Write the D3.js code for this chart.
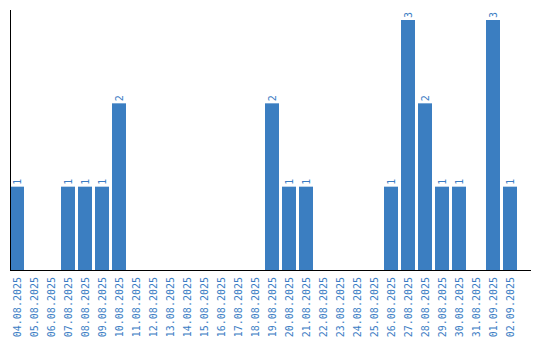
<!DOCTYPE html>
<html lang="en">
<head>
	<meta charset="UTF-8">
	<title>daily counts</title>
	<style>
		* { margin: 0; padding: 0; }
		body { background: #fff; }
		svg { display: block; }
		text { font-family: "DejaVu Sans Mono", monospace; font-size: 10px; fill: #3b7dc4; }
	</style>
</head>
<body>
	<script src="https://cdn.jsdelivr.net/npm/d3@7"></script>
	<script>
		var dates = ['04.08.2025', '05.08.2025', '06.08.2025', '07.08.2025', '08.08.2025', '09.08.2025',
			'10.08.2025', '11.08.2025', '12.08.2025', '13.08.2025', '14.08.2025', '15.08.2025',
			'16.08.2025', '17.08.2025', '18.08.2025', '19.08.2025', '20.08.2025', '21.08.2025',
			'22.08.2025', '23.08.2025', '24.08.2025', '25.08.2025', '26.08.2025', '27.08.2025',
			'28.08.2025', '29.08.2025', '30.08.2025', '31.08.2025', '01.09.2025', '02.09.2025'];
		var counts = [1, 0, 0, 1, 1, 1, 2, 0, 0, 0, 0, 0, 0, 0, 0, 2, 1, 1, 0, 0, 0, 0, 1, 3, 2, 1, 1, 0, 3, 1];

		var W = 540, H = 340;
		var padLeft = 10, padTop = 20, base = 270;

		var svg = d3.select('body').append('svg').attr('width', W).attr('height', H);

		// step 17px, bar 14px
		var x = d3.scaleBand().domain(dates).range([padLeft, padLeft + 17 * dates.length - 3]).paddingInner(3 / 17).paddingOuter(0);
		var y = d3.scaleLinear().domain([0, d3.max(counts)]).range([base, padTop]);

		var data = dates.map(function (d, i) { return { date: d, v: counts[i] }; });
		var nonZero = data.filter(function (d) { return d.v > 0; });

		svg.selectAll('rect.bar')
			.data(nonZero)
			.enter()
			.append('rect')
			.attr('class', 'bar')
			.attr('x', function (d) { return x(d.date); })
			.attr('y', function (d) { return y(d.v); })
			.attr('width', x.bandwidth())
			.attr('height', function (d) { return base - y(d.v); })
			.style('fill', '#3b7ec1');

		// value labels, rotated
		svg.selectAll('text.val')
			.data(nonZero)
			.enter()
			.append('text')
			.attr('class', 'val')
			.attr('transform', function (d) {
				return 'translate(' + (x(d.date) + x.bandwidth() / 2) + ',' + (y(d.v) - 2) + ') rotate(-90)';
			})
			.attr('dy', '0.35em')
			.text(function (d) { return d.v; });

		// x axis
		var xAxis = svg.append('g')
			.attr('transform', 'translate(0,' + base + ')')
			.call(d3.axisBottom(x).tickSize(0).tickPadding(0));
		xAxis.select('.domain').remove();
		xAxis.selectAll('text')
			.attr('transform', 'rotate(-90)')
			.attr('text-anchor', 'end')
			.attr('x', -7)
			.attr('y', 0)
			.attr('dy', '0.35em')
			.style('font-family', '"DejaVu Sans Mono", monospace')
			.style('font-size', '10px')
			.style('fill', '#3b7dc4');

		svg.append('line')
			.attr('x1', padLeft).attr('x2', 531)
			.attr('y1', base + 0.5).attr('y2', base + 0.5)
			.style('stroke', '#000');
		svg.append('line')
			.attr('x1', padLeft + 0.5).attr('x2', padLeft + 0.5)
			.attr('y1', 10).attr('y2', base)
			.style('stroke', '#000');
	</script>
</body>
</html>
